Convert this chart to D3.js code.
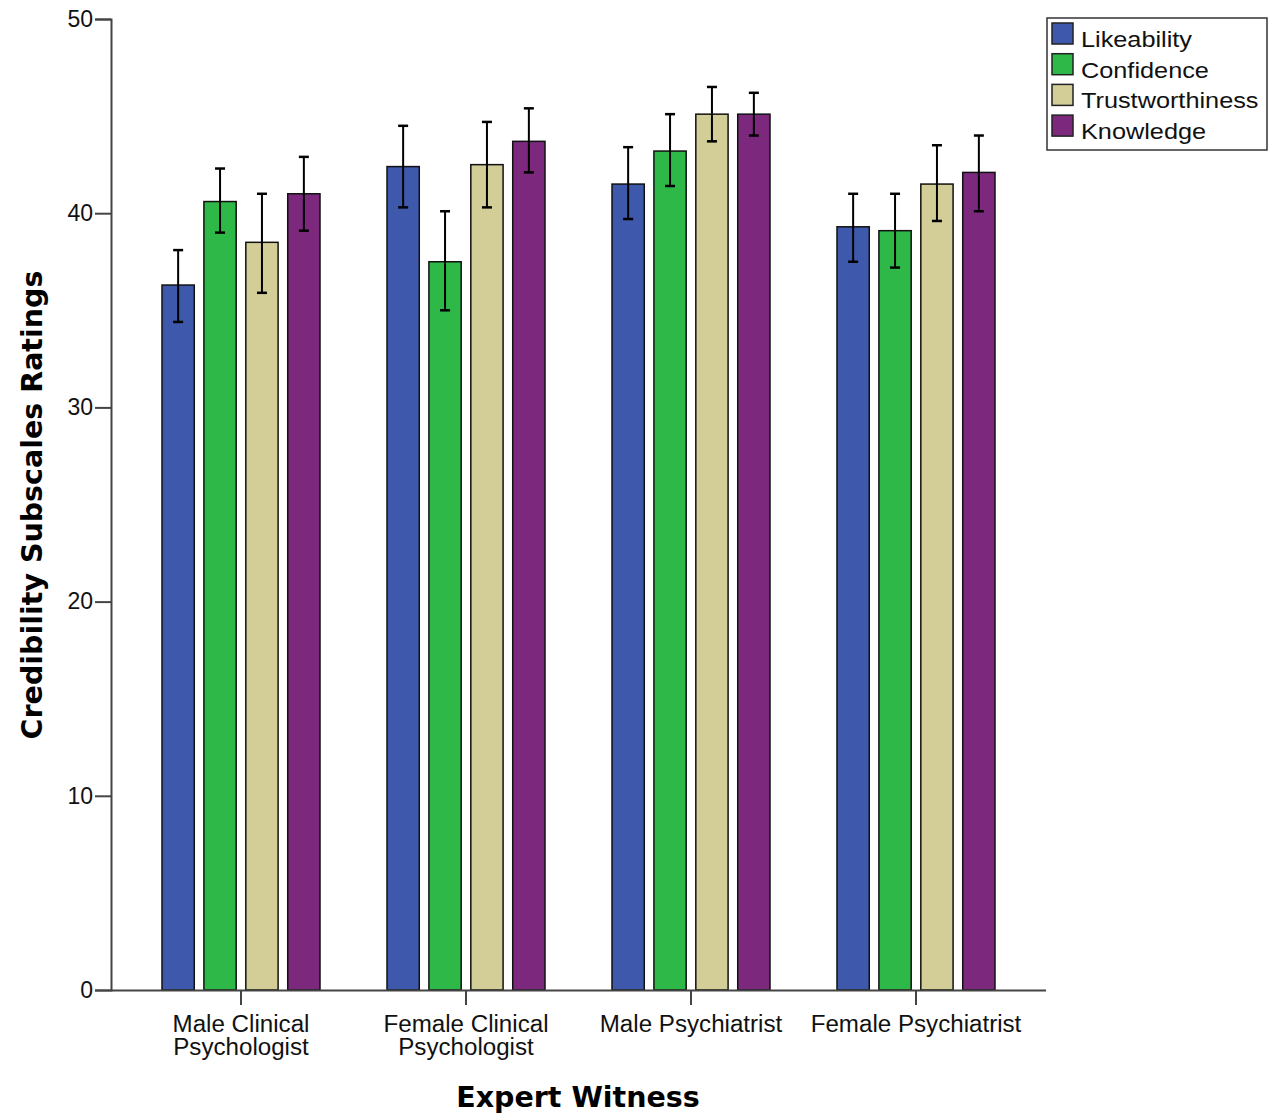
<!DOCTYPE html>
<meta charset="utf-8">
<style>
body { margin: 0; background: #fff; }
</style>
<svg width="1274" height="1119"></svg>
<script src="https://d3js.org/d3.v7.min.js"></script>
<script>
var categories = ["Male Clinical|Psychologist", "Female Clinical|Psychologist", "Male Psychiatrist", "Female Psychiatrist"]
var series = ["Likeability", "Confidence", "Trustworthiness", "Knowledge"]
var colors = ["#3e58ac", "#2eb848", "#d3ce97", "#7c287d"]

// means per category, in series order
var means = [
  [36.3, 40.6, 38.5, 41.0],
  [42.4, 37.5, 42.5, 43.7],
  [41.5, 43.2, 45.1, 45.1],
  [39.3, 39.1, 41.5, 42.1]
]
var lower = [
  [34.4, 39.0, 35.9, 39.1],
  [40.3, 35.0, 40.3, 42.1],
  [39.7, 41.4, 43.7, 44.0],
  [37.5, 37.2, 39.6, 40.1]
]
var upper = [
  [38.1, 42.3, 41.0, 42.9],
  [44.5, 40.1, 44.7, 45.4],
  [43.4, 45.1, 46.5, 46.2],
  [41.0, 41.0, 43.5, 44.0]
]
var yTicks = [0, 10, 20, 30, 40, 50]

var sans = '"Liberation Sans", Arial, sans-serif'
var bold = '"DejaVu Sans", sans-serif'
var svg = d3.select('svg')

var x = d3.scaleBand().domain(categories).range([128.5, 1028.5])
var xInner = d3.scaleBand().domain(series).range([-79, 79]).paddingInner(0.23)
var y = d3.scaleLinear().domain([0, 50]).range([990, 19])

// bars
var groups = svg.append('g').selectAll('g')
  .data(categories)
  .enter().append('g')
  .attr('transform', function (c) { return 'translate(' + (x(c) + x.bandwidth() / 2) + ',0)' })

groups.each(function (c, ci) {
  var g = d3.select(this)
  var rows = series.map(function (s, si) {
    return { s: s, si: si, m: means[ci][si], lo: lower[ci][si], hi: upper[ci][si] }
  })
  g.selectAll('rect').data(rows).enter().append('rect')
    .attr('x', function (d) { return xInner(d.s) })
    .attr('width', xInner.bandwidth())
    .attr('y', function (d) { return y(d.m) })
    .attr('height', function (d) { return y(0) - y(d.m) })
    .attr('fill', function (d) { return colors[d.si] })
    .attr('stroke', '#111')
    .attr('stroke-width', 1.5)

  var eb = g.selectAll('g.eb').data(rows).enter().append('g')
    .attr('stroke', '#000').attr('stroke-width', 2)
  eb.append('line')
    .attr('x1', function (d) { return xInner(d.s) + xInner.bandwidth() / 2 })
    .attr('x2', function (d) { return xInner(d.s) + xInner.bandwidth() / 2 })
    .attr('y1', function (d) { return y(d.lo) })
    .attr('y2', function (d) { return y(d.hi) })
  ;['lo', 'hi'].forEach(function (k) {
    eb.append('line')
      .attr('x1', function (d) { return xInner(d.s) + xInner.bandwidth() / 2 - 5 })
      .attr('x2', function (d) { return xInner(d.s) + xInner.bandwidth() / 2 + 5 })
      .attr('y1', function (d) { return y(d[k]) })
      .attr('y2', function (d) { return y(d[k]) })
      .attr('stroke-width', 2.5)
  })
})

// y axis
var yAxis = svg.append('g').attr('transform', 'translate(111,0)')
  .call(d3.axisLeft(y).tickValues(yTicks).tickSize(16).tickPadding(2))
yAxis.select('.domain').attr('stroke', '#444').attr('stroke-width', 2)
yAxis.selectAll('.tick line').attr('stroke', '#444').attr('stroke-width', 2)
yAxis.selectAll('.tick text').attr('font-size', 23).attr('fill', '#111')
  .attr('font-family', sans)

// x axis
svg.append('line').attr('x1', 111).attr('x2', 1046).attr('y1', 990.5).attr('y2', 990.5)
  .attr('stroke', '#444').attr('stroke-width', 2)
var xt = svg.append('g').selectAll('g').data(categories).enter().append('g')
  .attr('transform', function (c) { return 'translate(' + (x(c) + x.bandwidth() / 2) + ',0)' })
xt.append('line').attr('y1', 990).attr('y2', 1005).attr('stroke', '#444').attr('stroke-width', 2)
xt.append('text')
  .attr('text-anchor', 'middle')
  .attr('transform', 'scale(1.05,1)')
  .attr('font-size', 23)
  .attr('font-family', sans)
  .attr('fill', '#111')
  .each(function (c) {
    var t = d3.select(this)
    c.split('|').forEach(function (line, i) {
      t.append('tspan').attr('x', 0).attr('y', 1032 + i * 23).text(line)
    })
  })

// axis titles
svg.append('text')
  .attr('x', 578).attr('y', 1107)
  .attr('text-anchor', 'middle')
  .attr('font-size', 28.5).attr('font-weight', 'bold')
  .attr('font-family', bold)
  .attr('fill', '#000')
  .text('Expert Witness')
svg.append('text')
  .attr('transform', 'translate(42,505) rotate(-90)')
  .attr('text-anchor', 'middle')
  .attr('font-size', 28.5).attr('font-weight', 'bold')
  .attr('font-family', bold)
  .attr('fill', '#000')
  .text('Credibility Subscales Ratings')

// legend
var legend = svg.append('g').attr('transform', 'translate(1047,18)')
legend.append('rect').attr('width', 220).attr('height', 132)
  .attr('fill', '#fff').attr('stroke', '#333').attr('stroke-width', 1.5)
var li = legend.selectAll('g.li').data(series).enter().append('g')
  .attr('transform', function (d, i) { return 'translate(5,' + (5 + i * 30.7) + ')' })
li.append('rect').attr('width', 21).attr('height', 21)
  .attr('fill', function (d, i) { return colors[i] })
  .attr('stroke', '#222').attr('stroke-width', 1.5)
li.append('text')
  .attr('transform', 'translate(29,24) scale(1.15,1)')
  .attr('font-size', 22).attr('font-family', sans).attr('fill', '#111')
  .text(function (d) { return d })
</script>
